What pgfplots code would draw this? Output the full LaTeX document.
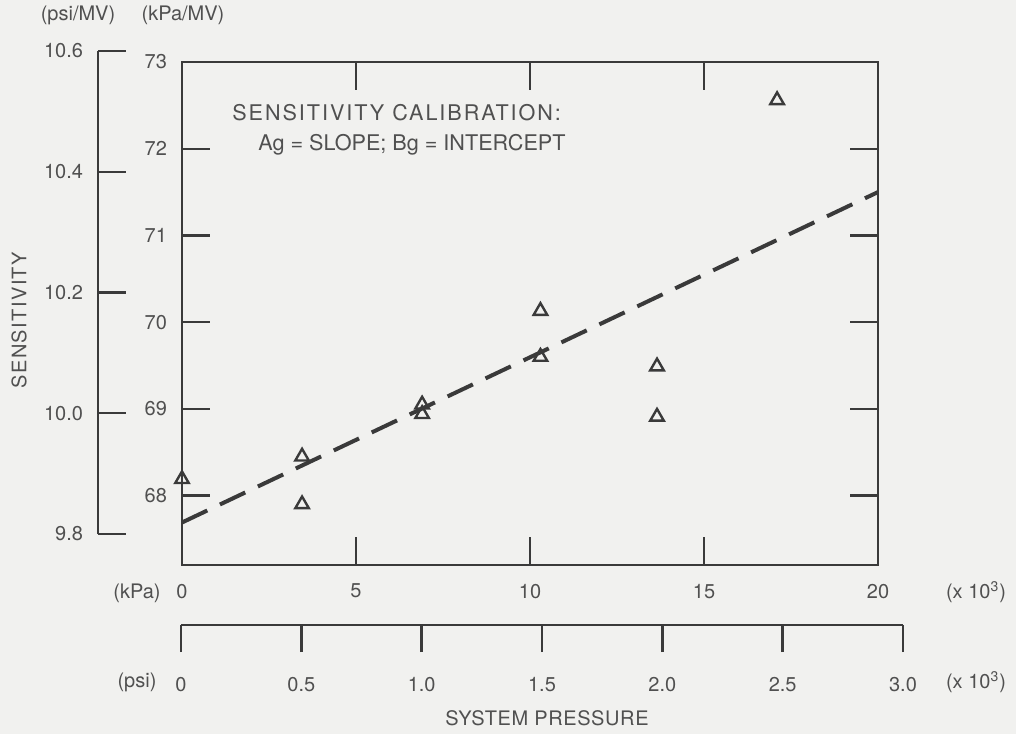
\documentclass[border=0pt]{standalone}
\usepackage{fontspec}
\setmainfont{TeX Gyre Heros}
\newfontfamily\spacedA[LetterSpace=9]{TeX Gyre Heros}
\newfontfamily\spacedB[LetterSpace=7]{TeX Gyre Heros}
\newfontfamily\spacedC[LetterSpace=3]{TeX Gyre Heros}
\usepackage{pgfplots}
\pgfplotsset{compat=1.18}
\definecolor{ink}{RGB}{58,58,58}
\definecolor{txt}{RGB}{80,80,80}
\definecolor{bg}{RGB}{241,241,239}
\pgfplotsset{
  myax/.style={scale only axis, tick align=inside, major tick length=14pt,
    axis line style={ink, line width=1.2pt, -},
    every tick/.style={ink, line width=1.2pt},
    tick label style={font=\fontsize{10}{12}\selectfont, text=txt},
    /pgf/number format/assume math mode=true, clip=false}
}
\begin{document}
\begin{tikzpicture}
\fill[bg] (0pt,0pt) rectangle (508pt,367pt);
% main axis (kPa)
\begin{axis}[myax, at={(91pt,84.5pt)}, anchor=south west, width=348pt, height=251.5pt,
  xmin=0, xmax=20, ymin=67.2, ymax=73,
  xtick={0,5,10,15,20}, ytick={68,69,70,71,72,73},
  xticklabel style={yshift=-6pt}, yticklabel style={xshift=-4pt}]
\addplot[ink, line width=2pt, dash pattern=on 14pt off 7pt] coordinates {(0,67.69) (20,71.5)};
\addplot[only marks, mark=triangle, mark size=3.9pt, mark options={ink, line width=1.2pt}] coordinates {
(0,68.19) (3.45,68.45) (3.45,67.90) (6.9,69.05) (6.9,68.94)
(10.3,70.13) (10.3,69.60) (13.65,69.49) (13.65,68.91) (17.1,72.56)};
\end{axis}
% left psi/MV axis
\begin{axis}[myax, at={(49pt,100pt)}, anchor=south west, width=20pt, height=241.5pt,
  xmin=0, xmax=1, ymin=9.8, ymax=10.6,
  axis x line=none, axis y line*=left,
  ytick={9.8,10,10.2,10.4,10.6},
  yticklabel style={xshift=-4pt, /pgf/number format/.cd, fixed, fixed zerofill, precision=1}]
\addplot[draw=none] coordinates {(0,10)};
\end{axis}
% bottom psi axis
\begin{axis}[myax, at={(90.5pt,54.5pt)}, anchor=south west, width=361pt, height=10pt,
  xmin=0, xmax=3, ymin=0, ymax=1, major tick length=13.5pt,
  axis y line=none, axis x line*=bottom, tick align=outside,
  xtick={0,0.5,1,1.5,2,2.5,3}, xticklabels={0,0.5,1.0,1.5,2.0,2.5,3.0},
  xticklabel style={yshift=-9pt}]
\addplot[draw=none] coordinates {(1,0.5)};
\end{axis}
\begin{scope}[every node/.style={text=txt, font=\fontsize{10}{12}\selectfont, inner sep=0pt}]
\node at (39pt,359.5pt) {(psi/MV)};
\node at (91.5pt,359.5pt) {(kPa/MV)};
\node[rotate=90] at (9.5pt,207pt) {\spacedB SENSITIVITY};
\node at (68.5pt,70.5pt) {(kPa)};
\node at (68.5pt,26pt) {(psi)};
\node at (488pt,71pt) {(x 10\textsuperscript{3})};
\node at (488pt,26pt) {(x 10\textsuperscript{3})};
\node at (273.5pt,8pt) {\spacedC SYSTEM PRESSURE};
\node[anchor=west, font=\fontsize{10.8}{12}\selectfont] at (116pt,310.5pt) {\spacedA SENSITIVITY CALIBRATION:};
\node[anchor=west, font=\fontsize{10.8}{12}\selectfont] at (129pt,294.5pt) {Ag = SLOPE; Bg = INTERCEPT};
\end{scope}
\pgfresetboundingbox
\useasboundingbox (0pt,0pt) rectangle (508pt,367pt);
\end{tikzpicture}
\end{document}
